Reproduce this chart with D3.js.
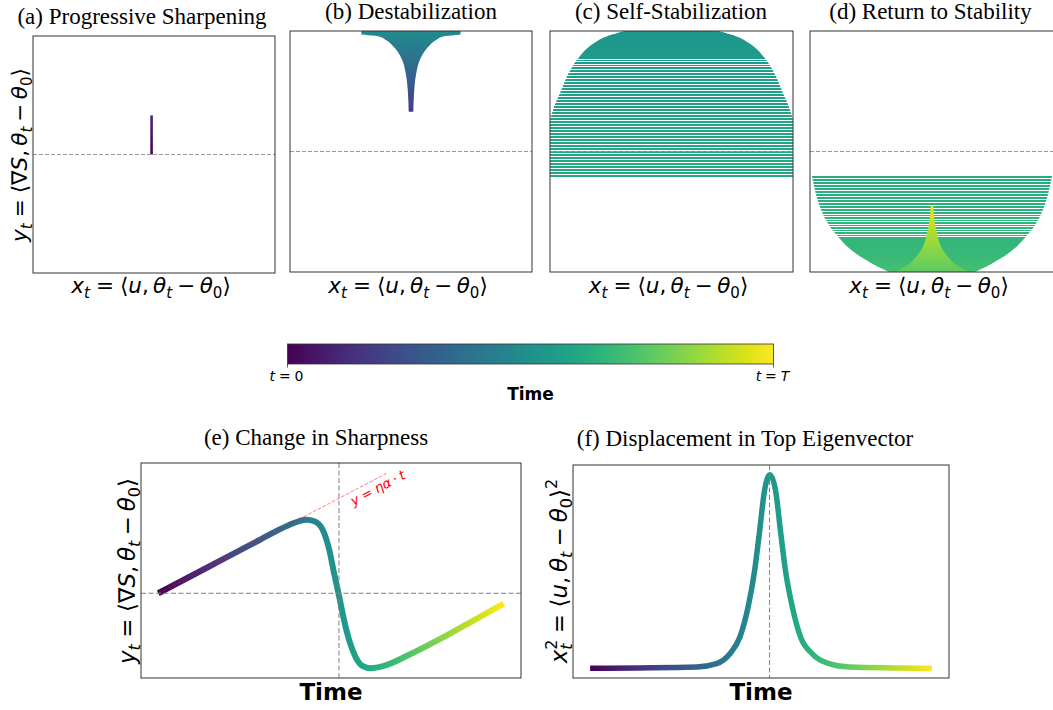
<!DOCTYPE html>
<html>
<head>
<meta charset="utf-8">
<script src="https://cdn.jsdelivr.net/npm/d3@7"></script>
<style>
  html, body { margin: 0; padding: 0; background: #fff; }
  svg { display: block; }
  text { white-space: pre; }
</style>
</head>
<body>
<div id="chart"></div>
<script>
'use strict';

// ---------- data ----------
// top row: all four panels share the plane x in [-1, 1], y in [-1, 1], dashed line is y = 0
var aTrajX = [ -0.02, -0.02, -0.02 ];
var aTrajY = [ 0, 0.17, 0.33 ];
var aTime = [ 0.01, 0.1 ];

// (b) envelope of the oscillation, bottom tip upward (time order)
var bEnvY = [ 0.33, 0.496, 0.635, 0.773, 0.856, 0.925, 0.953, 0.972, 1.02 ];
var bEnvHalf = [ 0.019, 0.026, 0.041, 0.079, 0.132, 0.207, 0.26, 0.41, 0.41 ];
var bTime = [ 0.17, 0.47 ];

// (c) y of each sweep across the valley (time order, top downward) and their envelope
var cLevels = [ 0.992, 0.983, 0.975, 0.967, 0.959, 0.946, 0.934, 0.921, 0.909, 0.896,
  0.884, 0.871, 0.859, 0.842, 0.826, 0.809, 0.793, 0.776, 0.755, 0.734,
  0.714, 0.693, 0.668, 0.643, 0.618, 0.593, 0.568, 0.544, 0.519, 0.494,
  0.469, 0.444, 0.419, 0.394, 0.369, 0.344, 0.320, 0.295, 0.270, 0.245,
  0.220, 0.195, 0.170, 0.145, 0.120, 0.095, 0.071, 0.046, 0.021, -0.004,
  -0.029, -0.054, -0.079, -0.104, -0.129, -0.154, -0.178, -0.203 ];
var cEnvY = [ 1.01, 0.983, 0.953, 0.898, 0.784, 0.643, 0.502, 0.361, 0.261, 0.17, -0.22 ];
var cEnvHalf = [ 0.36, 0.44, 0.54, 0.64, 0.76, 0.85, 0.91, 0.97, 1.0, 1.03, 1.06 ];
var cTime = [ 0.52, 0.61 ];

// (d) sweeps, envelope, and the final spike (bottom upward)
var dLevels = [ -0.212, -0.237, -0.261, -0.286, -0.311, -0.336, -0.361, -0.386, -0.411, -0.436,
  -0.461, -0.485, -0.510, -0.531, -0.552, -0.573, -0.593, -0.614, -0.635, -0.656,
  -0.676, -0.697, -0.718, -0.734, -0.751, -0.768, -0.784, -0.801, -0.817, -0.834,
  -0.846, -0.859, -0.871, -0.884, -0.896, -0.909, -0.917, -0.925, -0.934, -0.942,
  -0.950, -0.959, -0.967, -0.975, -0.983, -0.992 ];
var dEnvY = [ -0.20, -0.32, -0.427, -0.568, -0.707, -0.842, -0.956, -0.99, -1.03 ];
var dEnvHalf = [ 0.985, 0.96, 0.93, 0.87, 0.77, 0.63, 0.44, 0.37, 0.30 ];
var dTime = [ 0.62, 0.70 ];
var dSpikeY = [ -1.02, -0.983, -0.942, -0.873, -0.79, -0.707, -0.568, -0.452 ];
var dSpikeHalf = [ 0.31, 0.27, 0.2, 0.13, 0.074, 0.048, 0.02, 0.01 ];
var dSpikeTime = [ 0.75, 0.97 ];

// (e) y_t against time t / T
var eTime = [ 0, 0.146, 0.289, 0.376, 0.428, 0.452, 0.476, 0.495, 0.509, 0.524,
  0.538, 0.553, 0.572, 0.591, 0.615, 0.653, 0.720, 0.816, 0.912, 1.0 ];
var eValue = [ 0, 0.355, 0.703, 0.908, 0.986, 0.964, 0.851, 0.581, 0.266, -0.05,
  -0.365, -0.635, -0.861, -0.973, -1.004, -0.973, -0.838, -0.612, -0.365, -0.139 ];
var eRefSlope = 2.43;     // y = eta * alpha * t
var eRefEnd = 0.664;
var eCross = 0.523;

// (f) x_t^2 against time t / T
var fTime = [ 0, 0.312, 0.370, 0.409, 0.438, 0.462, 0.481, 0.496, 0.510, 0.526,
  0.543, 0.557, 0.572, 0.592, 0.616, 0.650, 0.699, 0.757, 1.0 ];
var fValue = [ 0, 0.007, 0.024, 0.075, 0.16, 0.314, 0.50, 0.708, 0.913, 0.998,
  0.913, 0.708, 0.50, 0.314, 0.16, 0.075, 0.024, 0.007, 0 ];
var fPeak = 0.525;

var topTitles = [ '(a) Progressive Sharpening', '(b) Destabilization',
  '(c) Self-Stabilization', '(d) Return to Stability' ];
var bottomTitles = [ '(e) Change in Sharpness', '(f) Displacement in Top Eigenvector' ];
var timeLabel = 'Time';

// ---------- math text ----------
// flags: i italic, _ subscript, ^ superscript, b step back over the previous subscript
function tk( s, flags, before, after ) {
  flags = flags || '';
  return { s: s, it: flags.indexOf( 'i' ) >= 0, sub: flags.indexOf( '_' ) >= 0,
    sup: flags.indexOf( '^' ) >= 0, back: flags.indexOf( 'b' ) >= 0,
    before: before || 0, after: after || 0 };
}
var EQ = function() { return tk( '=', '', 0.28, 0.28 ); };
var MINUS = function() { return tk( '\u2212', '', 0.22, 0.22 ); };
var COMMA = function() { return tk( ',', '', 0, 0.2 ); };

var xLabelTok = [ tk( 'x', 'i' ), tk( 't', 'i_' ), EQ(), tk( '\u27E8' ), tk( 'u', 'i' ),
  COMMA(), tk( '\u03B8', 'i' ), tk( 't', 'i_' ), MINUS(), tk( '\u03B8', 'i' ),
  tk( '0', '_' ), tk( '\u27E9' ) ];
var yLabelTok = [ tk( 'y', 'i' ), tk( 't', 'i_' ), EQ(), tk( '\u27E8' ), tk( '\u2207' ),
  tk( 'S', 'i' ), COMMA(), tk( '\u03B8', 'i' ), tk( 't', 'i_' ), MINUS(),
  tk( '\u03B8', 'i' ), tk( '0', '_' ), tk( '\u27E9' ) ];
var fLabelTok = [ tk( 'x', 'i' ), tk( 't', 'i_' ), tk( '2', '^b' ), EQ(), tk( '\u27E8' ),
  tk( 'u', 'i' ), COMMA(), tk( '\u03B8', 'i' ), tk( 't', 'i_' ), MINUS(),
  tk( '\u03B8', 'i' ), tk( '0', '_' ), tk( '\u27E9' ), tk( '2', '^' ) ];
var refTok = [ tk( 'y', 'i' ), EQ(), tk( '\u03B7', 'i' ), tk( '\u03B1', 'i' ),
  tk( '\u00B7', '', 0.22, 0.22 ), tk( 't', 'i' ) ];
var cbarTok = [
  [ tk( 't', 'i' ), EQ(), tk( '0' ) ],
  [ tk( 't', 'i' ), EQ(), tk( 'T', 'i' ) ]
];

var svg = d3.select( '#chart' )
  .append( 'svg' )
    .attr( 'width', 1053 )
    .attr( 'height', 710 );
var defs = svg.append( 'defs' );

function mathText( parent, tokens, size ) {
  var text = parent.append( 'text' )
    .style( 'font-family', '"DejaVu Sans", sans-serif' )
    .style( 'font-size', size + 'px' );
  var shift = 0, pending = 0;
  tokens.forEach( function( t ) {
    var target = t.sub ? 0.22 * size : ( t.sup ? -0.42 * size : 0 );
    var small = t.sub || t.sup;
    var dx = ( pending + t.before ) * size - ( t.back ? 0.28 * size : 0 );
    var span = text.append( 'tspan' )
      .attr( 'dy', target - shift )
      .style( 'font-size', ( small ? 0.7 * size : size ) + 'px' )
      .style( 'font-style', t.it ? 'italic' : 'normal' )
      .text( t.s );
    if ( dx ) span.attr( 'dx', dx );
    shift = target;
    pending = t.after;
  } );
  return text;
}

function viridisGradient( id, x1, y1, x2, y2, t0, t1 ) {
  var g = defs.append( 'linearGradient' )
    .attr( 'id', id )
    .attr( 'gradientUnits', 'userSpaceOnUse' )
    .attr( 'x1', x1 ).attr( 'y1', y1 )
    .attr( 'x2', x2 ).attr( 'y2', y2 );
  d3.range( 21 ).forEach( function( i ) {
    var f = i / 20;
    g.append( 'stop' )
      .attr( 'offset', f )
      .attr( 'stop-color', d3.interpolateViridis( t0 + ( t1 - t0 ) * f ) );
  } );
  return 'url(#' + id + ')';
}

function makePanel( box, id ) {
  var g = svg.append( 'g' )
    .attr( 'transform', 'translate(' + box.x + ',' + box.y + ')' );
  defs.append( 'clipPath' ).attr( 'id', id + '-clip' )
    .append( 'rect' ).attr( 'width', box.w ).attr( 'height', box.h );
  var plot = g.append( 'g' ).attr( 'clip-path', 'url(#' + id + '-clip)' );
  return { g: g, plot: plot, clipId: id + '-clip' };
}

function frame( p, box ) {
  p.g.append( 'rect' )
    .attr( 'width', box.w )
    .attr( 'height', box.h )
    .style( 'fill', 'none' )
    .style( 'stroke', '#333' )
    .style( 'stroke-width', 1 );
}

function title( text, x, y ) {
  svg.append( 'text' )
    .attr( 'x', x ).attr( 'y', y )
    .attr( 'text-anchor', 'middle' )
    .style( 'font-family', '"Liberation Serif", "Times New Roman", serif' )
    .style( 'font-size', '23px' )
    .text( text );
}

// ---------- top row ----------
var topBoxes = [
  { x: 33, y: 36, w: 242, h: 237 },
  { x: 290, y: 31, w: 242, h: 241 },
  { x: 550, y: 31, w: 243, h: 241 },
  { x: 810, y: 31, w: 244, h: 241 }
];
var topTitleAt = [ [ 142, 24 ], [ 411, 19 ], [ 671, 19 ], [ 930.5, 19 ] ];

var panels = topBoxes.map( function( box, i ) {
  var p = makePanel( box, 'top' + i );
  p.x = d3.scaleLinear().domain( [ -1, 1 ] ).range( [ 0, box.w ] );
  p.y = d3.scaleLinear().domain( [ -1, 1 ] ).range( [ box.h, 0 ] );
  return p;
} );

function envelopeArea( p ) {
  return d3.area()
    .y( function( d ) { return p.y( d[ 0 ] ); } )
    .x0( function( d ) { return p.x( -d[ 1 ] ); } )
    .x1( function( d ) { return p.x( d[ 1 ] ); } )
    .curve( d3.curveMonotoneY );
}

function sweeps( p, id, levels, envY, envHalf, trange ) {
  defs.append( 'clipPath' ).attr( 'id', id )
    .append( 'path' ).attr( 'd', envelopeArea( p )( d3.zip( envY, envHalf ) ) );
  var g = p.plot.append( 'g' ).attr( 'clip-path', 'url(#' + id + ')' );
  var color = d3.scaleLinear().domain( [ 0, levels.length - 1 ] ).range( trange );
  g.selectAll( 'line' )
    .data( levels )
    .enter()
    .append( 'line' )
      .attr( 'x1', p.x( -1.3 ) )
      .attr( 'x2', p.x( 1.3 ) )
      .attr( 'y1', function( d ) { return p.y( d ); } )
      .attr( 'y2', function( d ) { return p.y( d ); } )
      .style( 'stroke', function( d, k ) { return d3.interpolateViridis( color( k ) ); } )
      .style( 'stroke-width', 1.5 )
      .style( 'shape-rendering', 'crispEdges' );
}

// (a)
( function() {
  var p = panels[ 0 ];
  var grad = viridisGradient( 'gradA', 0, p.y( aTrajY[ 0 ] ), 0, p.y( aTrajY[ aTrajY.length - 1 ] ),
    aTime[ 0 ], aTime[ 1 ] );
  p.plot.append( 'path' )
    .attr( 'd', d3.line()
      .x( function( d, i ) { return p.x( aTrajX[ i ] ); } )
      .y( function( d ) { return p.y( d ); } )( aTrajY ) )
    .style( 'fill', 'none' )
    .style( 'stroke', grad )
    .style( 'stroke-width', 2.6 );
} )();

// (b)
( function() {
  var p = panels[ 1 ];
  var grad = viridisGradient( 'gradB', 0, p.y( bEnvY[ 0 ] ), 0, p.y( 0.975 ), bTime[ 0 ], bTime[ 1 ] );
  p.plot.append( 'path' )
    .attr( 'd', envelopeArea( p )( d3.zip( bEnvY, bEnvHalf ) ) )
    .style( 'fill', grad );
} )();

// (c), (d)
sweeps( panels[ 2 ], 'envC', cLevels, cEnvY, cEnvHalf, cTime );
sweeps( panels[ 3 ], 'envD', dLevels, dEnvY, dEnvHalf, dTime );
( function() {
  var p = panels[ 3 ];
  var grad = viridisGradient( 'gradD', 0, p.y( -1 ), 0, p.y( dSpikeY[ dSpikeY.length - 1 ] ),
    dSpikeTime[ 0 ], dSpikeTime[ 1 ] );
  p.plot.append( 'path' )
    .attr( 'd', envelopeArea( p )( d3.zip( dSpikeY, dSpikeHalf ) ) )
    .style( 'fill', grad );
} )();

panels.forEach( function( p, i ) {
  var box = topBoxes[ i ];
  p.plot.append( 'line' )
    .attr( 'x1', 0 ).attr( 'x2', box.w )
    .attr( 'y1', p.y( 0 ) ).attr( 'y2', p.y( 0 ) )
    .style( 'stroke', '#999' )
    .style( 'stroke-width', 1 )
    .style( 'stroke-dasharray', '4,2' );
  frame( p, box );
  title( topTitles[ i ], topTitleAt[ i ][ 0 ], topTitleAt[ i ][ 1 ] );
  mathText( svg, xLabelTok, 21.5 )
    .attr( 'text-anchor', 'middle' )
    .attr( 'transform', 'translate(' + ( box.x + box.w / 2 - 3 ) + ',293)' );
} );
mathText( svg, yLabelTok, 21.5 )
  .attr( 'text-anchor', 'middle' )
  .attr( 'transform', 'translate(27,155) rotate(-90)' );

// ---------- colour bar ----------
( function() {
  var cb = { x: 287.5, y: 344, w: 486, h: 20 };
  var cx = d3.scaleLinear().domain( [ 0, 1 ] ).range( [ cb.x, cb.x + cb.w ] );
  var grad = viridisGradient( 'gradCB', cx( 0 ), 0, cx( 1 ), 0, 0, 1 );
  svg.append( 'rect' )
    .attr( 'x', cb.x ).attr( 'y', cb.y )
    .attr( 'width', cb.w ).attr( 'height', cb.h )
    .style( 'fill', grad )
    .style( 'stroke', '#333' )
    .style( 'stroke-width', 0.8 );
  [ 0, 1 ].forEach( function( v, i ) {
    svg.append( 'line' )
      .attr( 'x1', cx( v ) ).attr( 'x2', cx( v ) )
      .attr( 'y1', cb.y + cb.h ).attr( 'y2', cb.y + cb.h + 3.5 )
      .style( 'stroke', '#333' ).style( 'stroke-width', 0.8 );
    mathText( svg, cbarTok[ i ], 14 )
      .attr( 'text-anchor', 'middle' )
      .attr( 'transform', 'translate(' + ( cx( v ) - 1 ) + ',381)' );
  } );
  svg.append( 'text' )
    .attr( 'x', cx( 0.5 ) ).attr( 'y', 400 )
    .attr( 'text-anchor', 'middle' )
    .style( 'font-family', '"DejaVu Sans", sans-serif' )
    .style( 'font-weight', 'bold' )
    .style( 'font-size', '17px' )
    .text( timeLabel );
} )();

// ---------- bottom row ----------
function timeAxisLabel( box ) {
  svg.append( 'text' )
    .attr( 'x', box.x + box.w / 2 ).attr( 'y', 700 )
    .attr( 'text-anchor', 'middle' )
    .style( 'font-family', '"DejaVu Sans", sans-serif' )
    .style( 'font-weight', 'bold' )
    .style( 'font-size', '23px' )
    .text( timeLabel );
}

function padded( lo, hi ) {
  var m = ( hi - lo ) * 0.05;
  return [ lo - m, hi + m ];
}

function dashed( sel ) {
  return sel.style( 'stroke', '#808080' )
    .style( 'stroke-width', 1 )
    .style( 'stroke-dasharray', '5,2.5' );
}

// (e)
( function() {
  var box = { x: 141, y: 463, w: 380, h: 215 };
  var p = makePanel( box, 'panE' );
  var x = d3.scaleLinear().domain( padded( 0, 1 ) ).range( [ 0, box.w ] );
  var y = d3.scaleLinear()
    .domain( padded( d3.min( eValue ), Math.max( d3.max( eValue ), eRefSlope * eRefEnd ) ) )
    .range( [ box.h, 0 ] );
  var grad = viridisGradient( 'gradE', x( 0 ), 0, x( 1 ), 0, 0, 1 );

  p.plot.append( 'path' )
    .attr( 'd', d3.line()
      .x( function( d, i ) { return x( eTime[ i ] ); } )
      .y( function( d ) { return y( d ); } )
      .curve( d3.curveMonotoneX )( eValue ) )
    .style( 'fill', 'none' )
    .style( 'stroke', grad )
    .style( 'stroke-width', 6 );

  p.plot.append( 'line' )
    .attr( 'x1', x( 0 ) ).attr( 'y1', y( 0 ) )
    .attr( 'x2', x( eRefEnd ) ).attr( 'y2', y( eRefSlope * eRefEnd ) )
    .style( 'stroke', 'red' )
    .style( 'stroke-opacity', 0.5 )
    .style( 'stroke-width', 1 )
    .style( 'stroke-dasharray', '3.7,1.6' );

  dashed( p.plot.append( 'line' )
    .attr( 'x1', 0 ).attr( 'x2', box.w )
    .attr( 'y1', y( 0 ) ).attr( 'y2', y( 0 ) ) );
  dashed( p.plot.append( 'line' )
    .attr( 'x1', x( eCross ) ).attr( 'x2', x( eCross ) )
    .attr( 'y1', 0 ).attr( 'y2', box.h ) );

  var ang = Math.atan2( y( 0 ) - y( eRefSlope * eRefEnd ), x( eRefEnd ) - x( 0 ) ) * 180 / Math.PI;
  mathText( svg, refTok, 13.5 )
    .attr( 'text-anchor', 'middle' )
    .style( 'fill', 'red' )
    .attr( 'transform', 'translate(380,492) rotate(' + ( -ang ) + ')' );

  frame( p, box );
  title( bottomTitles[ 0 ], 316, 445 );
  timeAxisLabel( box );
  mathText( svg, yLabelTok, 23 )
    .attr( 'text-anchor', 'middle' )
    .attr( 'transform', 'translate(135,571) rotate(-90)' );
} )();

// (f)
( function() {
  var box = { x: 573, y: 465, w: 376, h: 213 };
  var p = makePanel( box, 'panF' );
  var x = d3.scaleLinear().domain( padded( 0, 1 ) ).range( [ 0, box.w ] );
  var y = d3.scaleLinear().domain( padded( d3.min( fValue ), d3.max( fValue ) ) ).range( [ box.h, 0 ] );
  var grad = viridisGradient( 'gradF', x( 0 ), 0, x( 1 ), 0, 0, 1 );

  p.plot.append( 'path' )
    .attr( 'd', d3.line()
      .x( function( d, i ) { return x( fTime[ i ] ); } )
      .y( function( d ) { return y( d ); } )
      .curve( d3.curveMonotoneX )( fValue ) )
    .style( 'fill', 'none' )
    .style( 'stroke', grad )
    .style( 'stroke-width', 5.5 );

  dashed( p.plot.append( 'line' )
    .attr( 'x1', x( fPeak ) ).attr( 'x2', x( fPeak ) )
    .attr( 'y1', 0 ).attr( 'y2', box.h ) );

  frame( p, box );
  title( bottomTitles[ 1 ], 745, 446 );
  timeAxisLabel( box );
  mathText( svg, fLabelTok, 23 )
    .attr( 'text-anchor', 'middle' )
    .attr( 'transform', 'translate(567,571) rotate(-90)' );
} )();
</script>
</body>
</html>
